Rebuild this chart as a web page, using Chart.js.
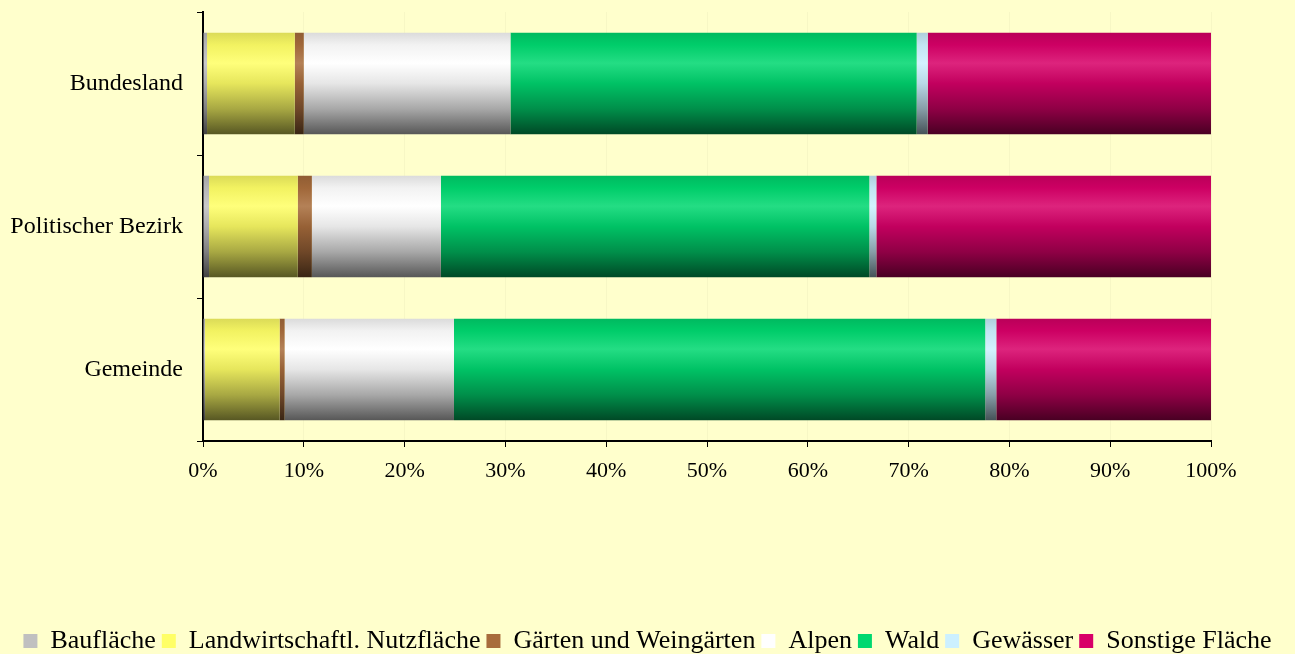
<!DOCTYPE html>
<html><head><meta charset="utf-8">
<script src="https://cdn.jsdelivr.net/npm/chart.js@4/dist/chart.umd.min.js"></script>
<style>html,body{margin:0;padding:0;background:#ffffcc;}#wrap{width:1295px;height:654px;}</style>
</head><body><div id="wrap"><canvas id="c" width="1295" height="654"></canvas></div>
<script>
const categories = ["Bundesland", "Politischer Bezirk", "Gemeinde"];
const seriesNames = ["Baufläche", "Landwirtschaftl. Nutzfläche", "Gärten und Weingärten", "Alpen", "Wald", "Gewässer", "Sonstige Fläche"];
const bauflaeche = [0.4, 0.6, 0.2];
const landwirtschaft = [8.7, 8.8, 7.4];
const gaerten = [0.9, 1.4, 0.5];
const alpen = [20.5, 12.8, 16.8];
const wald = [40.3, 42.5, 52.7];
const gewaesser = [1.1, 0.7, 1.1];
const sonstige = [28.1, 33.2, 21.3];
const xTickLabels = ["0%","10%","20%","30%","40%","50%","60%","70%","80%","90%","100%"];
const seriesColors = ["#c0c0c0", "#ffff66", "#a86c3c", "#ffffff", "#00d870", "#ccf0ff", "#d80068"];

const allSeries = [bauflaeche, landwirtschaft, gaerten, alpen, wald, gewaesser, sonstige];
const BAR_PCT = 0.71;

function hexToRgb(h){const n=parseInt(h.slice(1),16);return [(n>>16)&255,(n>>8)&255,n&255];}
function scale(rgb,f){return 'rgb('+rgb.map(v=>Math.max(0,Math.min(255,Math.round(v*f)))).join(',')+')';}
function mixW(rgb,t){return 'rgb('+rgb.map(v=>Math.round(v+(255-v)*t)).join(',')+')';}

function gradFor(hex){
  return function(ctx){
    const chart = ctx.chart;
    const y = chart.scales && chart.scales.y;
    if(!y || ctx.dataIndex===undefined) return hex;
    const c = y.getPixelForValue(ctx.dataIndex);
    const step = Math.abs(y.getPixelForValue(1)-y.getPixelForValue(0));
    if(!isFinite(c)||!isFinite(step)||step===0) return hex;
    const half = step*BAR_PCT/2;
    const rgb = hexToRgb(hex);
    const g = chart.ctx.createLinearGradient(0,c-half,0,c+half);
    g.addColorStop(0, scale(rgb,0.86));
    g.addColorStop(0.12, scale(rgb,0.95));
    g.addColorStop(0.3, mixW(rgb,0.14));
    g.addColorStop(0.5, scale(rgb,0.9));
    g.addColorStop(0.75, scale(rgb,0.66));
    g.addColorStop(1, scale(rgb,0.34));
    return g;
  };
}

const datasets = seriesNames.map((name,i)=>({
  label: name,
  data: allSeries[i],
  backgroundColor: gradFor(seriesColors[i]),
  borderWidth: 0,
  categoryPercentage: 1,
  barPercentage: BAR_PCT
}));

const bgPlugin = {
  id:'bg',
  beforeDraw(chart){const c=chart.ctx;c.save();c.fillStyle='#ffffcc';c.fillRect(0,0,chart.width,chart.height);c.restore();}
};
const legendShift = {
  id:'legendShift',
  afterLayout(chart){ if(chart.legend){ chart.legend.top += 10; chart.legend.bottom += 10; } }
};

const FONT = "'Liberation Serif', 'Times New Roman', serif";

new Chart(document.getElementById('c'), {
  type:'bar',
  data:{labels:categories, datasets},
  plugins:[bgPlugin, legendShift],
  options:{
    indexAxis:'y',
    responsive:false,
    animation:false,
    layout:{padding:{top:12,right:0,left:0,bottom:0}},
    plugins:{
      tooltip:{enabled:false},
      legend:{
        position:'bottom',
        labels:{
          font:{family:FONT,size:26,lineHeight:0.62},
          color:'#000',
          boxWidth:14, boxHeight:14,
          padding:6,
          generateLabels(chart){
            return chart.data.datasets.map((d,i)=>({text:d.label, fillStyle:seriesColors[i], strokeStyle:seriesColors[i], lineWidth:0, datasetIndex:i, hidden:false}));
          }
        }
      }
    },
    scales:{
      x:{
        stacked:true, min:0, max:100,
        afterFit(s){s.height=171; s.paddingRight=84;},
        ticks:{stepSize:10, color:'#000', font:{family:FONT,size:22}, padding:11,
          callback:(v,i)=>xTickLabels[Math.round(v/10)]},
        grid:{color:'rgba(0,0,0,0.03)', tickColor:'#000', tickLength:6, drawOnChartArea:true},
        border:{color:'#000', width:2}
      },
      y:{
        stacked:true,
        afterFit(s){s.width=203; s.paddingTop=0; s.paddingBottom=0;},
        ticks:{color:'#000', font:{family:FONT,size:24}, padding:14},
        grid:{drawOnChartArea:false, tickColor:'#000', tickLength:6, offset:true},
        border:{color:'#000', width:2}
      }
    }
  }
});
</script>
</body></html>
